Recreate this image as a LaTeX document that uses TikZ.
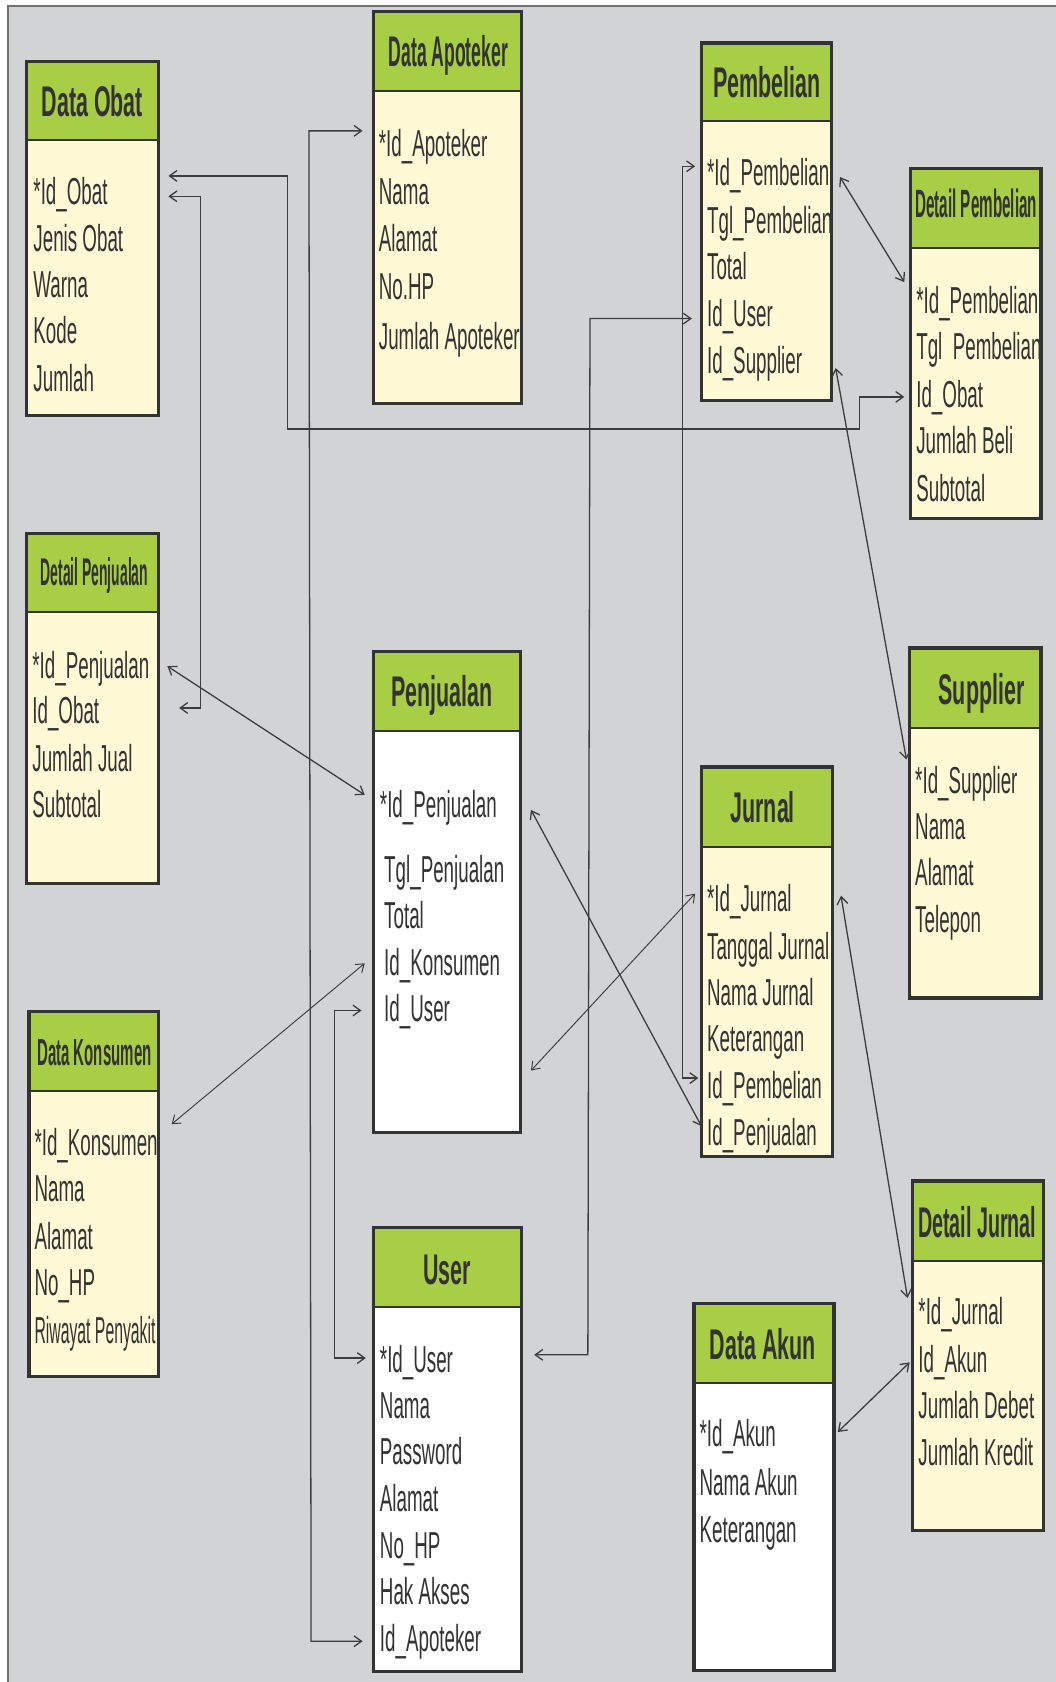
\documentclass[tikz,border=0pt]{standalone}
\usepackage{fontspec}
\setmainfont{Liberation Sans}[FakeStretch=0.5]
\usepackage{graphicx}
\usetikzlibrary{arrows.meta}

\definecolor{bggray}{HTML}{D2D3D5}
\definecolor{edgegray}{HTML}{707070}
\definecolor{hdrgreen}{HTML}{A8CE45}
\definecolor{cream}{HTML}{FFF9D6}
\definecolor{ink}{HTML}{333333}
\definecolor{wire}{HTML}{3C3C3C}

\tikzset{
  hdr/.style={fill=hdrgreen, inner sep=0pt, anchor=north west},
  bodyfill/.style={inner sep=0pt, anchor=north west},
  frame/.style={draw=ink, line width=3pt},
  divider/.style={draw=ink, line width=1.8pt},
  ttl/.style={anchor=base, inner sep=0pt, text=ink, font=\fontsize{40}{40}\selectfont\bfseries},
  fld/.style={anchor=base west, inner sep=0pt, text=ink, font=\fontsize{35}{35}\selectfont},
  barb/.tip={Straight Barb[length=7pt,width=10pt]},
  link/.style={draw=wire, line width=1.2pt, barb-barb},
  thinlink/.style={link, line width=0.9pt},
}

% header band and body of one table: name, left, top, right, bottom, header bottom, body colour
\newcommand\ertable[7]{%
  \node[hdr, minimum width={#4-#2}, minimum height={#6-#3}] (#1-h) at (#2,#3) {};
  \node[bodyfill, fill=#7, minimum width={#4-#2}, minimum height={#5-#6}] (#1) at (#2,#6) {};
}

\begin{document}
\begin{tikzpicture}[x=1pt, y=-1pt]
\useasboundingbox (0,0) rectangle (984,1568);
\fill[white] (0,0) rectangle (984,1568);
\fill[bggray] (7.5,5.5) rectangle (984,1568);
\draw[edgegray, line width=1.5pt] (984,5.5) -- (7.5,5.5) -- (7.5,1568);

% tables
\ertable{obat}{25}{57}{147}{387}{130}{cream}
\ertable{apot}{348}{11}{486}{376}{84}{cream}
\ertable{pemb}{654}{40}{775}{373}{112}{cream}
\ertable{dpemb}{849}{157}{970}{483}{231}{cream}
\ertable{djual}{25}{497}{147}{823}{570}{cream}
\ertable{jual}{348}{607}{485}{1055}{681}{white}
\ertable{supp}{848}{604}{970}{930}{678}{cream}
\ertable{jurnal}{654}{715}{776}{1078}{789}{cream}
\ertable{kons}{27}{943}{147}{1283}{1017}{cream}
\ertable{user}{348}{1144}{486}{1558}{1218}{white}
\ertable{djur}{851}{1101}{972}{1426}{1175}{cream}
\ertable{akun}{647}{1215}{777}{1557}{1289}{white}

% titles
\node[ttl] (obat-t) at (86,109) {Data Obat};
\node[ttl] (apot-t) at (418,62) {\scalebox{0.82}[1]{Data Apoteker}};
\node[ttl] (pemb-t) at (715,91) {Pembelian};
\node[ttl] (dpemb-t) at (910,203) {\scalebox{0.71}[0.92]{Detail Pembelian}};
\node[ttl] (djual-t) at (88,546) {\scalebox{0.65}[0.9]{Detail Penjualan}};
\node[ttl] (jual-t) at (412,659) {Penjualan};
\node[ttl] (supp-t) at (915,657) {Supplier};
\node[ttl] (jurnal-t) at (711,767) {Jurnal};
\node[ttl] (kons-t) at (88,993) {\scalebox{0.7}[0.88]{Data Konsumen}};
\node[ttl] (user-t) at (417,1197) {User};
\node[ttl] (djur-t) at (911,1154) {\scalebox{0.92}[1]{Detail Jurnal}};
\node[ttl] (akun-t) at (711,1267) {Data Akun};

% attribute rows
\foreach \y/\t [count=\i] in {178/{*Id\_Obat}, 222/{Jenis Obat}, 265/{Warna}, 308/{Kode}, 352/{Jumlah}}
  \node[fld] (obat-\i) at (31,\y+12.5) {\t};
\foreach \y/\t [count=\i] in {133/{*Id\_Apoteker}, 178/{Nama}, 222/{Alamat}, 267/{No.HP}, 313/{Jumlah Apoteker}}
  \node[fld] (apot-\i) at (353,\y+12.5) {\t};
\foreach \y/\t [count=\i] in {160/{*Id\_Pembelian}, 205/{Tgl\_Pembelian}, 248/{Total}, 292/{Id\_User}, 336/{Id\_Supplier}}
  \node[fld] (pemb-\i) at (659,\y+12.5) {\t};
\foreach \y/\t [count=\i] in {280/{*Id\_Pembelian}, 323/{Tgl\hspace{9.7pt}Pembelian}, 367/{Id\_Obat}, 410/{Jumlah Beli}, 455/{Subtotal}}
  \node[fld] (dpemb-\i) at (854,\y+12.5) {\t};
\foreach \y/\t [count=\i] in {620/{*Id\_Penjualan}, 662/{Id\_Obat}, 707/{Jumlah Jual}, 750/{Subtotal}}
  \node[fld] (djual-\i) at (30,\y+12.5) {\t};
\node[fld] (jual-1) at (354,762.5) {*Id\_Penjualan};
\foreach \y/\t [count=\i from 2] in {810/{Tgl\_Penjualan}, 853/{Total}, 897/{Id\_Konsumen}, 940/{Id\_User}}
  \node[fld] (jual-\i) at (358,\y+12.5) {\t};
\foreach \y/\t [count=\i] in {727/{*Id\_Supplier}, 770/{Nama}, 813/{Alamat}, 857/{Telepon}}
  \node[fld] (supp-\i) at (853,\y+12.5) {\t};
\foreach \y/\t [count=\i] in {837/{*Id\_Jurnal}, 882/{Tanggal Jurnal}, 925/{Nama Jurnal}, 968/{Keterangan}, 1012/{Id\_Pembelian}, 1055/{Id\_Penjualan}}
  \node[fld] (jurnal-\i) at (659,\y+12.5) {\t};
\foreach \y/\t [count=\i] in {1065/{*Id\_Konsumen}, 1108/{Nama}, 1152/{Alamat}, 1195/{No\_HP}, 1240/{\scalebox{0.84}[1]{Riwayat Penyakit}}}
  \node[fld] (kons-\i) at (32,\y+12.5) {\t};
\foreach \y/\t [count=\i] in {1267/{*Id\_User}, 1310/{Nama}, 1353/{Password}, 1397/{Alamat}, 1440/{No\_HP}, 1483/{Hak Akses}, 1527/{Id\_Apoteker}}
  \node[fld] (user-\i) at (354,\y+12.5) {\t};
\foreach \y/\t [count=\i] in {1222/{*Id\_Jurnal}, 1267/{Id\_Akun}, 1310/{Jumlah Debet}, 1354/{Jumlah Kredit}}
  \node[fld] (djur-\i) at (856,\y+12.5) {\t};
\foreach \y/\t [count=\i] in {1336/{*Id\_Akun}, 1382/{Nama Akun}, 1425/{Keterangan}}
  \node[fld] (akun-\i) at (652,\y+12.5) {\t};

% table outlines on top of the rows
\foreach \n in {obat,apot,pemb,dpemb,djual,jual,supp,jurnal,kons,user,djur,akun}{
  \draw[frame] (\n-h.north west) rectangle (\n.south east);
  \draw[divider] (\n-h.south west) -- (\n-h.south east);
}

% connector end points
\coordinate (a1) at (157,164);   \coordinate (a2) at (843,370);
\coordinate (b1) at (157,183);   \coordinate (b2) at (167,660);
\coordinate (c1) at (338,122);   \coordinate (c2) at (338,1530);
\coordinate (d1) at (648,155);   \coordinate (d2) at (651,1005);
\coordinate (e1) at (645,297);   \coordinate (e2) at (498,1263);
\coordinate (f1) at (783,165);   \coordinate (f2) at (843,263);
\coordinate (g1) at (779,343);   \coordinate (g2) at (845,708);
\coordinate (h1) at (156,621);   \coordinate (h2) at (340,741);
\coordinate (i1) at (340,898);   \coordinate (i2) at (160,1048);
\coordinate (j1) at (337,942);   \coordinate (j2) at (341,1266);
\coordinate (k1) at (495,755);   \coordinate (k2) at (654,1050);
\coordinate (l1) at (648,833);   \coordinate (l2) at (495,998);
\coordinate (m1) at (784,835);   \coordinate (m2) at (846,1210);
\coordinate (n1) at (781,1335);  \coordinate (n2) at (848,1270);

% relationships
\draw[link] (a1) -| (268,400) -| (801,370) -- (a2);
\draw[link] (b1) -| (187,660) -- (b2);
\draw[link] (c1) -- (288,122) -- (290,1530) -- (c2);
\draw[link] (d1) -- (636,155) -- (636,1005) -- (d2);
\draw[link] (e1) -- (550,297) -- (548,1263) -- (e2);
\draw[link] (f1) -- (f2);
\draw[link] (g1) -- (g2);
\draw[link] (h1) -- (h2);
\draw[thinlink] (i1) -- (i2);
\draw[link] (j1) -- (312,942) -- (312,1266) -- (j2);
\draw[link] (k1) -- (k2);
\draw[thinlink] (l1) -- (l2);
\draw[link] (m1) -- (m2);
\draw[link] (n1) -- (n2);
\end{tikzpicture}
\end{document}
